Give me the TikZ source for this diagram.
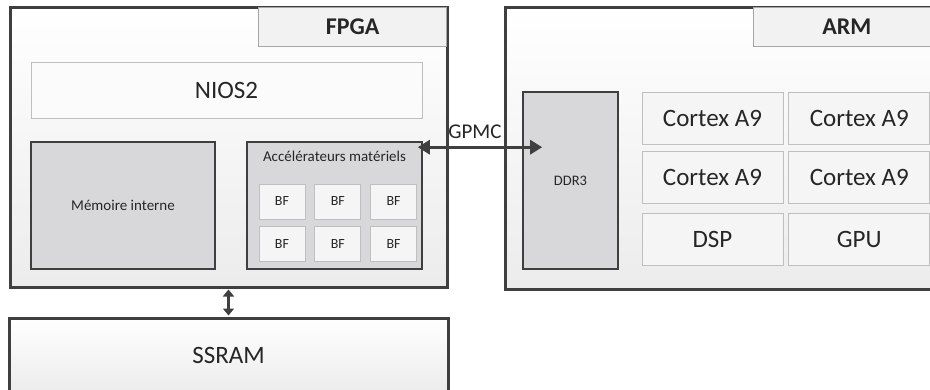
\documentclass[tikz,border=0pt]{standalone}
\usepackage{fontspec}
\setmainfont{Carlito}
\usepackage{tikz}
\usetikzlibrary{positioning,arrows.meta}
\definecolor{BoxLine}{HTML}{3F3F3F}
\definecolor{ThinLine}{HTML}{BFBFBF}
\definecolor{TitleLine}{HTML}{A6A6A6}
\definecolor{TitleFill}{HTML}{F2F2F2}
\definecolor{PanelFill}{HTML}{F7F7F7}
\definecolor{UnitFill}{HTML}{D8D8DA}
\definecolor{CellFill}{HTML}{F5F5F5}
\definecolor{TextGray}{HTML}{262626}

\begin{document}
\begin{tikzpicture}[x=1pt,y=-1pt,
  every node/.style={inner sep=0pt,text=TextGray,align=center},
  big/.style={font=\fontsize{25}{30}\selectfont},
  small/.style={font=\fontsize{15}{18}\selectfont},
  outer/.style={draw=BoxLine,line width=3pt,top color=white,bottom color=PanelFill!80!gray!60},
  ttl/.style={draw=TitleLine,line width=0.8pt,fill=TitleFill,font=\fontsize{24}{28}\selectfont\bfseries},
  pale/.style={draw=ThinLine,line width=0.8pt,fill=white!60!CellFill},
  unit/.style={draw=BoxLine,line width=1.6pt,fill=UnitFill},
  cell/.style={draw=ThinLine,line width=0.8pt,fill=CellFill,minimum width=141pt,minimum height=52pt,big},
  bf/.style={draw=ThinLine,line width=0.8pt,fill=CellFill,minimum width=46pt,minimum height=35pt,font=\fontsize{14}{17}\selectfont},
  arr/.style={line width=3pt,draw=BoxLine,{Triangle[length=12pt,width=14pt]}-{Triangle[length=12pt,width=14pt]}},
  varr/.style={line width=3pt,draw=BoxLine,{Triangle[length=7pt,width=11pt]}-{Triangle[length=7pt,width=11pt]}}
]
  \useasboundingbox (0,0) rectangle (930,389);
  \clip (0,0) rectangle (930,389);

  % FPGA side
  \node[outer,minimum width=437pt,minimum height=280pt] (fpga) at (228.5,147) {};
  \node[ttl,anchor=north east,minimum width=188pt,minimum height=39pt]
    (fpgat) at ([shift={(-1.5pt,-1.5pt)}]fpga.north east) {FPGA};
  \node[pale,big,minimum width=391pt,minimum height=56pt] (nios) at (226.5,90) {NIOS2};
  \node[unit,small,minimum width=184pt,minimum height=127pt] (mem) at (123,205.5) {Mémoire interne};
  \node[unit,minimum width=175pt,minimum height=127pt] (acc) at (334.5,205.5) {};
  \node[small,below=10pt of acc.north] (acct) {Accélérateurs matériels};
  \node[bf] (bf1) at (282,201.5) {BF};
  \node[bf,right=9pt of bf1] (bf2) {BF};
  \node[bf,right=9pt of bf2] (bf3) {BF};
  \node[bf,below=7pt of bf1] (bf4) {BF};
  \node[bf,below=7pt of bf2] (bf5) {BF};
  \node[bf,below=7pt of bf3] (bf6) {BF};

  % ARM side
  \node[outer,minimum width=436pt,minimum height=282pt] (arm) at (723,148) {};
  \node[ttl,anchor=north east,minimum width=187.5pt,minimum height=39pt]
    (armt) at ([shift={(-1.5pt,-1.5pt)}]arm.north east) {ARM};
  \node[unit,minimum width=95pt,minimum height=177pt,font=\fontsize{14.5}{17}\selectfont]
    (ddr) at (570.5,180.5) {DDR3};
  \node[cell] (ca1) at (712.5,118) {Cortex A9};
  \node[cell,right=5pt of ca1] (ca2) {Cortex A9};
  \node[cell,below=7pt of ca1] (ca3) {Cortex A9};
  \node[cell,below=7pt of ca2] (ca4) {Cortex A9};
  \node[cell,below=9pt of ca3] (dsp) {DSP};
  \node[cell,below=9pt of ca4] (gpu) {GPU};

  % SSRAM
  \node[outer,big,minimum width=439pt,minimum height=74pt] (ssram) at (228.5,355) {SSRAM};

  % links
  \coordinate (gw) at ([shift={(-5pt,-6pt)}]acc.north east);
  \coordinate (ge) at ([xshift=20pt]ddr.west |- gw);
  \draw[arr] (gw) -- (ge);
  \node[font=\fontsize{21}{25}\selectfont] (gpmc) at (475,132) {GPMC};
  \draw[varr,shorten <=1pt,shorten >=1pt] (fpga.south) -- (ssram.north);
\end{tikzpicture}
\end{document}
